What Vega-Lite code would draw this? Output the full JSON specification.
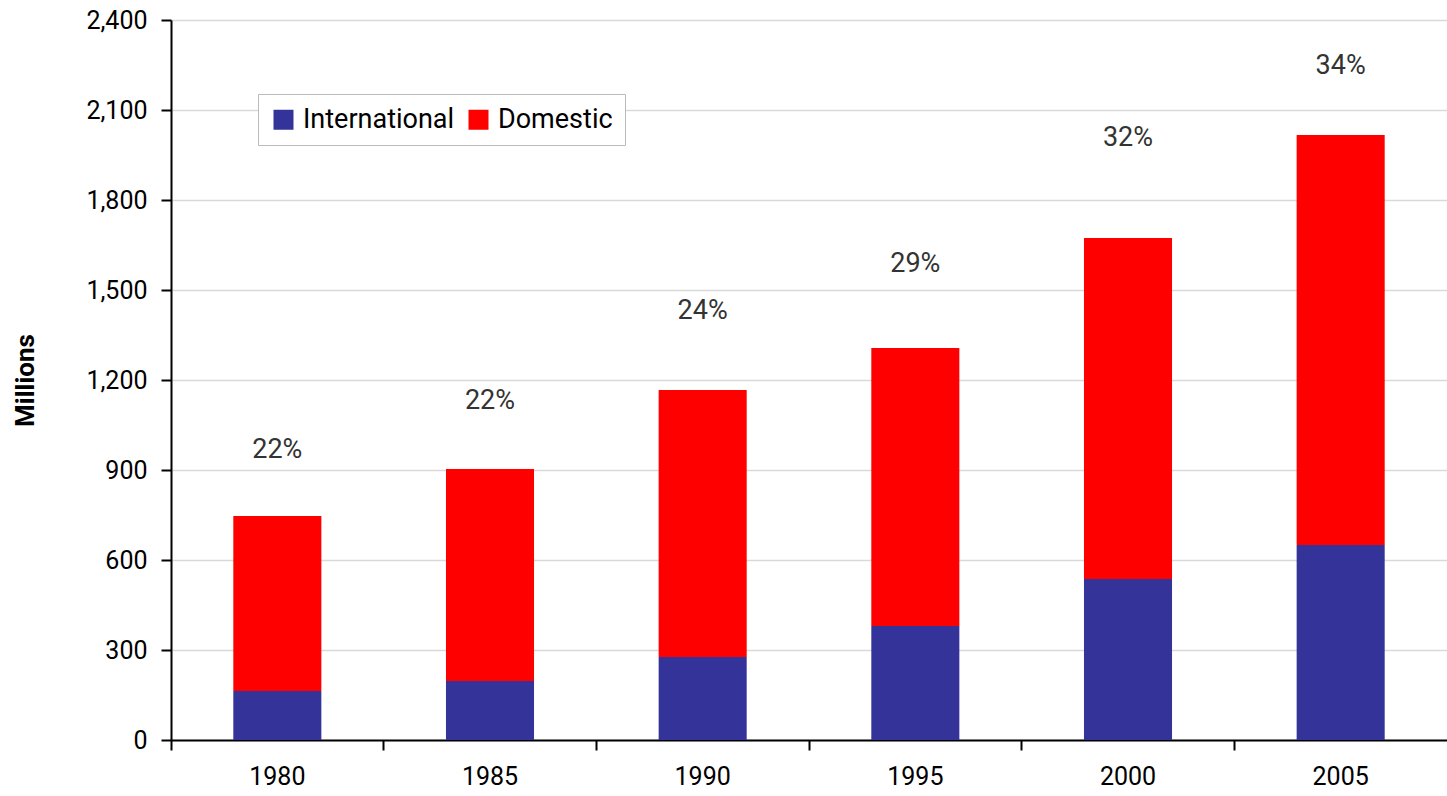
{
  "$schema": "https://vega.github.io/schema/vega-lite/v6.json",
  "width": 1276,
  "height": 720,
  "autosize": "none",
  "padding": {"left": 171, "top": 20, "right": 0, "bottom": 56},
  "background": "white",
  "config": {
    "view": {"stroke": null},
    "font": "Roboto"
  },
  "datasets": {
    "bars": [
      {"year": "1980", "type": "International", "value": 163},
      {"year": "1980", "type": "Domestic", "value": 584},
      {"year": "1985", "type": "International", "value": 197},
      {"year": "1985", "type": "Domestic", "value": 706},
      {"year": "1990", "type": "International", "value": 277},
      {"year": "1990", "type": "Domestic", "value": 890},
      {"year": "1995", "type": "International", "value": 380},
      {"year": "1995", "type": "Domestic", "value": 927},
      {"year": "2000", "type": "International", "value": 537},
      {"year": "2000", "type": "Domestic", "value": 1136},
      {"year": "2005", "type": "International", "value": 650},
      {"year": "2005", "type": "Domestic", "value": 1367}
    ],
    "pct": [
      {"year": "1980", "label": "22%", "pos": 967},
      {"year": "1985", "label": "22%", "pos": 1130},
      {"year": "1990", "label": "24%", "pos": 1430},
      {"year": "1995", "label": "29%", "pos": 1587},
      {"year": "2000", "label": "32%", "pos": 2007},
      {"year": "2005", "label": "34%", "pos": 2247}
    ]
  },
  "layer": [
    {
      "data": {"name": "bars"},
      "mark": {"type": "bar", "width": {"band": 0.414}},
      "encoding": {
        "x": {
          "field": "year", "type": "ordinal",
          "scale": {"paddingInner": 0, "paddingOuter": 0},
          "axis": {
            "title": null, "labelAngle": 0, "bandPosition": 0,
            "domainColor": "black", "domainWidth": 2,
            "tickColor": "black", "tickWidth": 2, "tickSize": 10,
            "labelFontSize": 25, "labelColor": "black", "labelPadding": 14,
            "labelFontWeight": "normal", "grid": false
          }
        },
        "y": {
          "field": "value", "type": "quantitative", "stack": "zero",
          "scale": {"domain": [0, 2400], "nice": false},
          "axis": {
            "title": "Millions", "titleFontSize": 26, "titleFontWeight": "bold", "titleColor": "black",
            "titleX": -146, "titleY": 360, "titleAngle": -90, "titleAlign": "center", "titleBaseline": "middle",
            "values": [0, 300, 600, 900, 1200, 1500, 1800, 2100, 2400],
            "format": ",d",
            "domainColor": "black", "domainWidth": 2,
            "tickColor": "black", "tickWidth": 2, "tickSize": 10,
            "labelFontSize": 25, "labelColor": "black", "labelPadding": 14,
            "gridColor": "#d9d9d9", "gridWidth": 1.5
          }
        },
        "color": {
          "field": "type", "type": "nominal",
          "sort": ["International", "Domestic"],
          "scale": {"domain": ["International", "Domestic"], "range": ["#333399", "#ff0000"]},
          "legend": {
            "title": null, "orient": "none", "legendX": 87, "legendY": 74,
            "direction": "horizontal",
            "symbolType": "square", "symbolSize": 400, "symbolStrokeWidth": 0,
            "labelFontSize": 27, "labelColor": "black", "labelOffset": 6,
            "columnPadding": 10,
            "strokeColor": "#bbbbbb", "fillColor": "white",
            "padding": 12
          }
        },
        "order": {"field": "type", "sort": "descending"}
      }
    },
    {
      "data": {"name": "pct"},
      "mark": {"type": "text", "fontSize": 27, "color": "#333333", "baseline": "middle", "align": "center"},
      "encoding": {
        "x": {"field": "year", "type": "ordinal", "bandPosition": 0.5},
        "y": {"field": "pos", "type": "quantitative"},
        "text": {"field": "label"}
      }
    }
  ]
}
